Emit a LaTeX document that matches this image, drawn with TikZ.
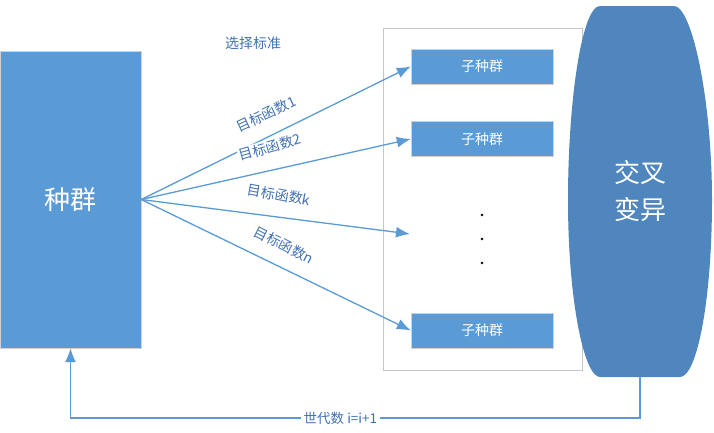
\documentclass[tikz,border=0pt]{standalone}
\usepackage{fontspec}
\setmainfont{Noto Sans CJK SC}
\usetikzlibrary{arrows.meta}
\definecolor{boxblue}{RGB}{91,155,213}
\definecolor{ovalblue}{RGB}{79,134,189}
\definecolor{txtblue}{RGB}{65,113,180}
\tikzset{>={Latex[length=14pt,width=11pt]}}
\tikzset{
  popbox/.style={draw=gray!35,fill=boxblue,text=white,inner sep=0pt},
  subbox/.style={popbox,minimum width=142pt,minimum height=35pt,font=\fontsize{14}{16}\selectfont},
  link/.style={draw=boxblue,line width=1.3pt},
  tag/.style={text=txtblue,font=\fontsize{14}{16}\selectfont,inner sep=1pt}
}

\begin{document}
\begin{tikzpicture}[x=1pt,y=-1pt]
            \draw[draw=none,use as bounding box] (0,0) rectangle (714,432);
            \node[popbox,minimum width=141pt,minimum height=297pt,font=\fontsize{26}{30}\selectfont] (pop) at (70.5,199.5) {种群};
            \node[draw=gray!45,minimum width=199pt,minimum height=342pt,inner sep=0pt] (pool) at (482.5,199) {};
            \node[subbox] (sub1) at (482,66.5) {子种群};
            \node[subbox] (sub2) at (482,139) {子种群};
            \node[subbox] (subn) at (482,330.5) {子种群};
            \coordinate (subk) at (410,234);
            \foreach \y in {215,239,263} \fill (482,\y) circle (1.3);
            \draw[link,->] (pop.east) -- (sub1.west);
            \draw[link,->] (pop.east) -- (sub2.west);
            \draw[link,->] (pop.east) -- (subk);
            \draw[link,->] (pop.east) -- (subn.west);
            \node[tag] (rule) at (253,43) {选择标准};
            \node[tag,rotate=25] (f1) at (266,114) {目标函数1};
            \node[tag,rotate=16,fill=white] (f2) at (270,147) {目标函数2};
            \node[tag,rotate=-10] (fk) at (279,195) {目标函数k};
            \node[tag,rotate=-27] (fn) at (284,245) {目标函数n};
            % crossover / mutation
            \fill[ovalblue] (600,6) -- (674,6) .. controls (692,6) and (712,100) .. (712,200)
                .. controls (712,300) and (697,377) .. (680,377) -- (600,377)
                .. controls (584,377) and (568,300) .. (568,200)
                .. controls (568,100) and (582,6) .. (600,6) -- cycle;
            \node[text=white,align=center,font=\fontsize{26}{37}\selectfont] (xover) at (640,191) {交叉\\变异};
            \coordinate (ovalbot) at (640,377);
            \coordinate (turn) at (640,418);
            \draw[link,->] (ovalbot) -- (turn) -| node[tag,pos=0.263,fill=white,inner sep=3pt,font=\fontsize{13.5}{16}\selectfont] (gen) {世代数 i=i+1} (pop.south);
        \end{tikzpicture}
\end{document}
